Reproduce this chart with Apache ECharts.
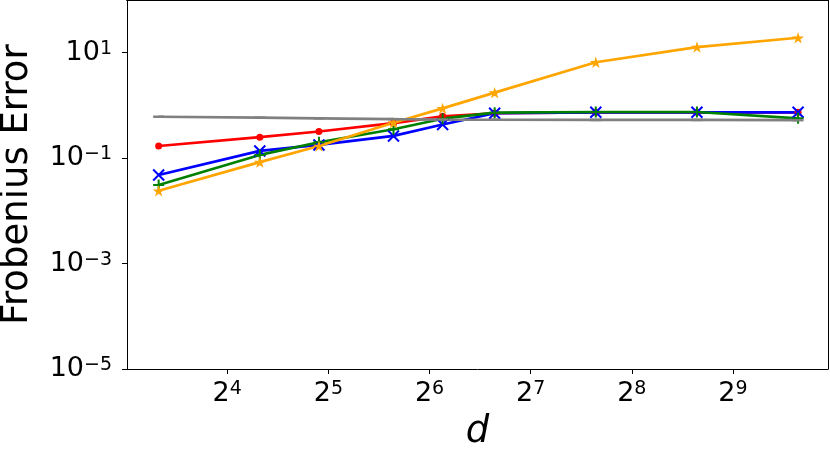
<!DOCTYPE html>
<html><head><meta charset="utf-8">
<script src="https://cdn.jsdelivr.net/npm/echarts@6/dist/echarts.min.js"></script>
<style>html,body{margin:0;padding:0;background:#fff}#c{width:830px;height:455px}</style>
</head><body><div id="c"></div>
<script>
// Data
const dValues      = [10, 20, 30, 50, 70, 100, 200, 400, 800];
const redValues    = [0.17, 0.25, 0.32, 0.46, 0.62, 0.71, 0.74, 0.74, 0.74];
const blueValues   = [0.048, 0.137, 0.178, 0.264, 0.435, 0.71, 0.74, 0.74, 0.74];
const greenValues  = [0.031, 0.115, 0.20, 0.353, 0.56, 0.73, 0.75, 0.75, 0.57];
const orangeValues = [0.024, 0.084, 0.17, 0.47, 0.88, 1.75, 6.6, 12.8, 19.2];
const grayValues   = [0.61, 0.585, 0.57, 0.55, 0.54, 0.535, 0.53, 0.53, 0.525];
const xTickValues  = [16, 32, 64, 128, 256, 512];
const yTickValues  = [1e-5, 1e-3, 1e-1, 10];
const xAxisTitle = 'd';
const yAxisTitle = 'Frobenius Error';

const FONT = 'DejaVu Sans';
const pairs = arr => dValues.map((d, i) => [d, arr[i]]);
const sup = s => String(s).replace('-', '\u2212');

const STAR = 'path://M50,0L61.2,34.55L97.55,34.55L68.2,55.9L79.4,90.45L50,69.1L20.6,90.45L31.8,55.9L2.45,34.55L38.8,34.55Z';
const XMARK = 'path://M0,0L10,10M10,0L0,10';
const PLUS = 'path://M5,0L5,10M0,5L10,5';
const LW = 2.7;

function richFor(supLH) {
  return {
    b: {fontFamily: FONT, fontSize: 27, lineHeight: 27, color: '#000'},
    s: {fontFamily: FONT, fontSize: 19, lineHeight: supLH, verticalAlign: 'top', color: '#000'}
  };
}
const frameAxis = (pos, extra) => Object.assign({
  position: pos, axisLine: {show: true, onZero: false, lineStyle: {color: '#000', width: 2}},
  axisTick: {show: false}, axisLabel: {show: false}, splitLine: {show: false}, minorTick: {show: false}
}, extra);

const chart = echarts.init(document.getElementById('c'), null, {renderer: 'canvas'});
chart.setOption({
  animation: false,
  backgroundColor: '#fff',
  grid: {left: 127, right: 2, top: 0, bottom: 86, show: false, outerBoundsMode: 'none', containLabel: false},
  xAxis: [{
    type: 'log', logBase: 2, min: 8.05, max: 982, position: 'bottom',
    name: xAxisTitle, nameLocation: 'middle', nameGap: 45,
    nameTextStyle: {fontFamily: FONT, fontSize: 37, fontStyle: 'italic', color: '#000'},
    axisLine: {onZero: false, lineStyle: {color: '#000', width: 1}},
    axisTick: {show: true, length: 5, lineStyle: {color: '#000', width: 1}, customValues: xTickValues},
    axisLabel: {
      margin: 11, customValues: xTickValues,
      formatter: v => '{b|2}{s|' + sup(Math.round(Math.log2(v))) + '}',
      rich: richFor(16)
    },
    splitLine: {show: false}, minorTick: {show: false}
  }, frameAxis('top', {type: 'log', logBase: 2, min: 8.05, max: 982})],
  yAxis: [{
    type: 'log', logBase: 10, min: 1e-5, max: 100, position: 'left',
    name: yAxisTitle, nameLocation: 'middle', nameGap: 91,
    nameTextStyle: {fontFamily: FONT, fontSize: 37, color: '#000'},
    axisLine: {show: true, onZero: false, lineStyle: {color: '#000', width: 1}},
    axisTick: {show: true, length: 5, lineStyle: {color: '#000', width: 1}, customValues: yTickValues},
    axisLabel: {
      margin: 15, customValues: yTickValues,
      formatter: v => '{b|10}{s|' + sup(Math.round(Math.log10(v))) + '}',
      rich: richFor(14)
    },
    splitLine: {show: false}, minorTick: {show: false}
  }, frameAxis('right', {type: 'log', logBase: 10, min: 1e-5, max: 100,
      axisLine: {show: true, onZero: false, lineStyle: {color: '#000', width: 1}}})],
  series: [
    {type: 'line', data: pairs(redValues), symbol: 'circle', symbolSize: 7,
     lineStyle: {color: '#ff0000', width: LW}, itemStyle: {color: '#ff0000', borderWidth: 0}},
    {type: 'line', data: pairs(blueValues), symbol: XMARK, symbolSize: 11,
     lineStyle: {color: '#0000ff', width: LW}, itemStyle: {color: '#0000ff', borderColor: '#0000ff', borderWidth: 2}},
    {type: 'line', data: pairs(greenValues), symbol: PLUS, symbolSize: 11,
     lineStyle: {color: '#008000', width: LW}, itemStyle: {color: '#008000', borderColor: '#008000', borderWidth: 2}},
    {type: 'line', data: pairs(orangeValues), symbol: STAR, symbolSize: 12, symbolKeepAspect: true,
     lineStyle: {color: '#ffa500', width: LW}, itemStyle: {color: '#ffa500', borderWidth: 0}},
    {type: 'line', data: pairs(grayValues), symbol: 'rect', symbolSize: [11, 2.5],
     lineStyle: {color: '#808080', width: LW}, itemStyle: {color: '#808080', borderWidth: 0}}
  ]
});
</script></body></html>
